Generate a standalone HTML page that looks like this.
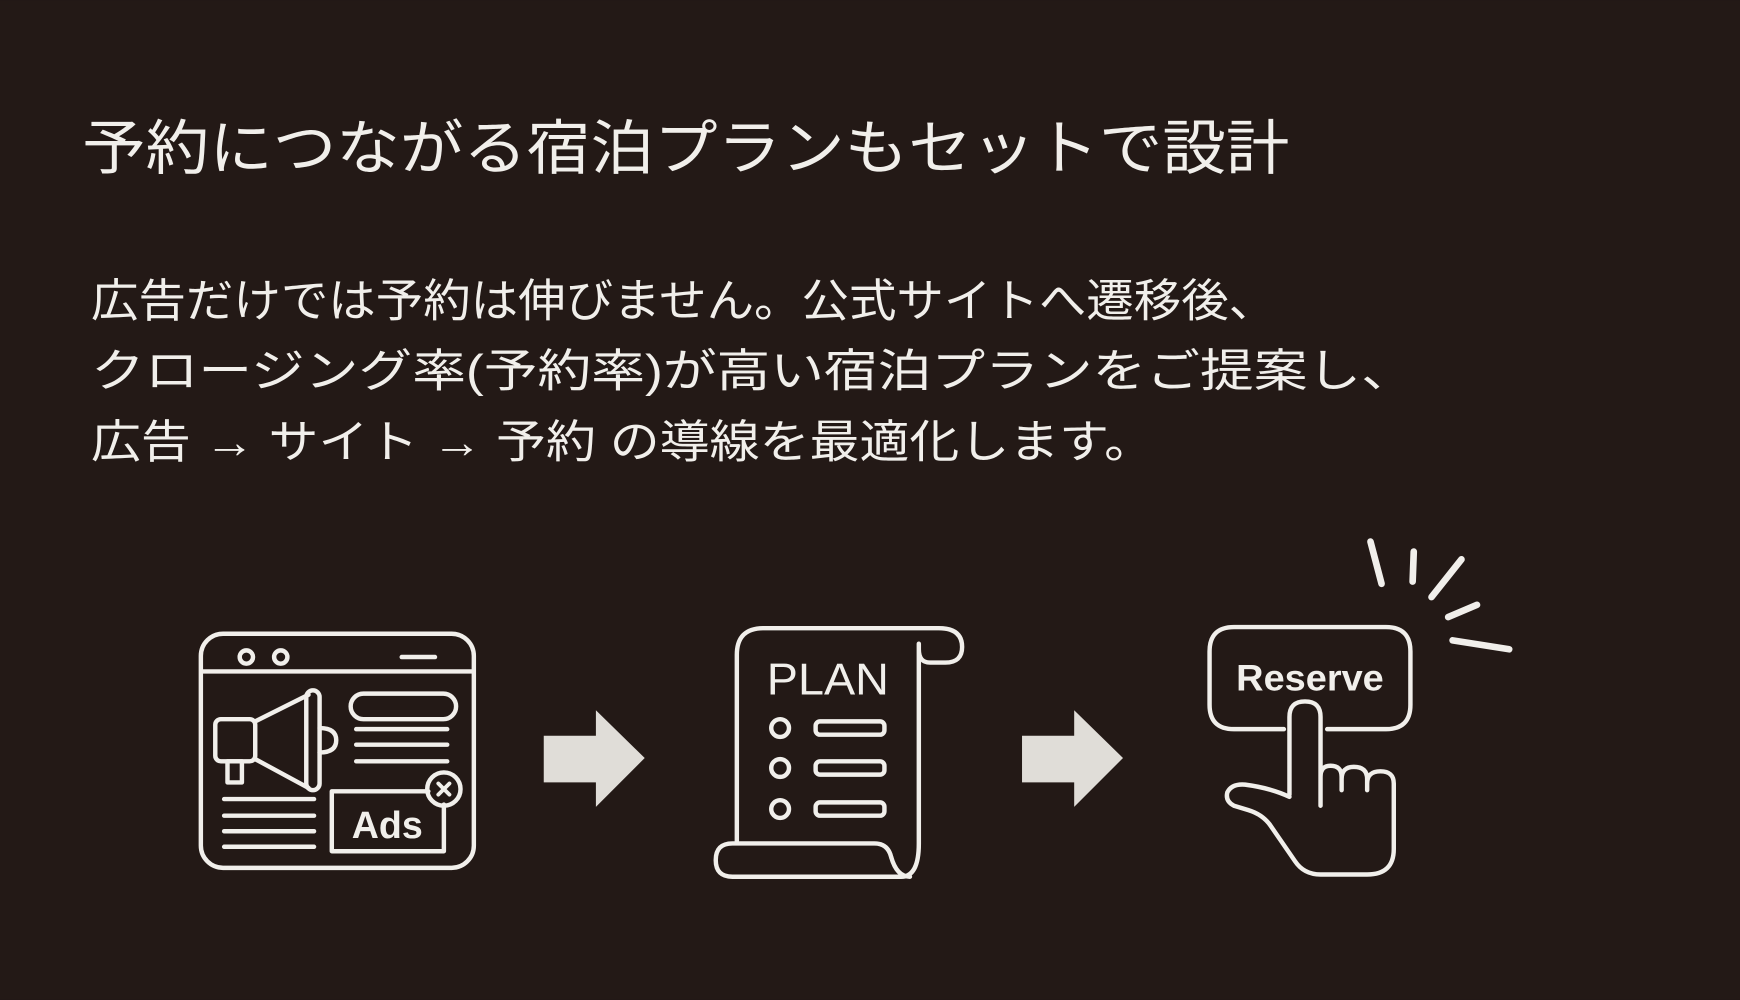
<!DOCTYPE html>
<html><head><meta charset="utf-8"><style>
html,body{margin:0;padding:0;background:#231916;}
svg{display:block}
text{font-family:"Liberation Sans","Noto Sans CJK JP",sans-serif;}
</style></head><body>
<svg width="1740" height="1000" viewBox="0 0 1568 901" xmlns="http://www.w3.org/2000/svg">
<rect width="1568" height="901" fill="#231916"/>
<g fill="#f1efeb">
<text x="74" y="152" font-size="54" textLength="1088" lengthAdjust="spacingAndGlyphs">予約につながる宿泊プランもセットで設計</text>
<text x="82" y="285" font-size="41" textLength="1068" lengthAdjust="spacingAndGlyphs">広告だけでは予約は伸びません。公式サイトへ遷移後、</text>
<text x="82" y="348" font-size="41" textLength="1193" lengthAdjust="spacingAndGlyphs">クロージング率(予約率)が高い宿泊プランをご提案し、</text>
<text x="82" y="412" font-size="41" textLength="958" lengthAdjust="spacingAndGlyphs">広告 → サイト → 予約 の導線を最適化します。</text>
</g>
<g fill="none" stroke="#f1efeb" stroke-width="4" stroke-linecap="round" stroke-linejoin="round">
<rect x="181" y="571" width="246" height="211" rx="20"/>
<line x1="183" y1="605" x2="425" y2="605"/>
<circle cx="222" cy="592" r="6"/><circle cx="253" cy="592" r="6"/>
<line x1="362" y1="592" x2="392" y2="592"/>
<rect x="194" y="648" width="36" height="38" rx="5"/>
<path d="M230,650 L278,626 M230,684 L278,710"/>
<rect x="276" y="622" width="12" height="90" rx="6"/>
<path d="M288,656 Q303,656 303,667 Q303,678 288,678"/>
<rect x="205" y="686" width="13" height="19"/>
<rect x="316" y="625" width="95" height="23" rx="11.5"/>
<line x1="321" y1="657" x2="403" y2="657"/><line x1="321" y1="671" x2="403" y2="671"/><line x1="321" y1="686" x2="403" y2="686"/>
<line x1="202" y1="720" x2="283" y2="720"/><line x1="202" y1="735" x2="283" y2="735"/><line x1="202" y1="749" x2="283" y2="749"/><line x1="202" y1="763" x2="283" y2="763"/>
<path d="M386,713 H299 V767 H400 V725"/>
<circle cx="400" cy="711" r="15"/>
<path d="M395,706 L405,716 M405,706 L395,716" stroke-width="3.5"/>
<path d="M664,760 V590 Q664,566 688,566 H846 Q867,566 867,583 Q867,597 852,597 H838 Q828,597 828,585 M828,580 V760 Q828,790 812,790 H660 Q645,790 645,775 Q645,760 660,760 H788 Q800,760 803,772 Q808,790 820,790"/>
<circle cx="703" cy="656" r="8"/><circle cx="703" cy="692" r="8"/><circle cx="703" cy="729" r="8"/>
<rect x="735" y="650" width="62" height="12" rx="4"/><rect x="735" y="686" width="62" height="12" rx="4"/><rect x="735" y="723" width="62" height="12" rx="4"/>
<path d="M1157,657 H1112 Q1090,657 1090,635 V587 Q1090,565 1112,565 H1249 Q1271,565 1271,587 V635 Q1271,657 1249,657 H1196"/>
<path d="M1162,716 V646 Q1162,632 1176,632 Q1190,632 1190,646 V726 M1190,700 Q1190,690 1199,690 Q1209,690 1209,700 V712 M1209,702 Q1209,691 1220,691 Q1232,691 1232,702 V712 M1232,706 Q1232,695 1244,695 Q1256,695 1256,706 V765 Q1256,788 1232,788 H1190 Q1175,788 1167,776 L1145,744 Q1138,734 1125,730 L1112,726 Q1104,722 1106,714 Q1110,706 1122,707 Q1145,710 1162,718"/>
</g>
<g stroke="#f1efeb" stroke-width="6" stroke-linecap="round">
<line x1="1235" y1="488" x2="1245" y2="526"/>
<line x1="1274" y1="497" x2="1273" y2="524"/>
<line x1="1317" y1="504" x2="1290" y2="538"/>
<line x1="1331" y1="545" x2="1305" y2="556"/>
<line x1="1309" y1="577" x2="1360" y2="585"/>
</g>
<g fill="#f1efeb" font-weight="bold">
<text x="317" y="755" font-size="34" textLength="64" lengthAdjust="spacingAndGlyphs">Ads</text>
<text x="691" y="626" font-size="40" textLength="110" lengthAdjust="spacingAndGlyphs" font-weight="normal">PLAN</text>
<text x="1114" y="622" font-size="33" textLength="133" lengthAdjust="spacingAndGlyphs">Reserve</text>
</g>
<g fill="#e0ddd8">
<polygon points="490,663 537,663 537,640 581,683 537,727 537,705 490,705"/>
<polygon points="921,663 968,663 968,640 1012,683 968,727 968,705 921,705"/>
</g>
</svg>
</body></html>
